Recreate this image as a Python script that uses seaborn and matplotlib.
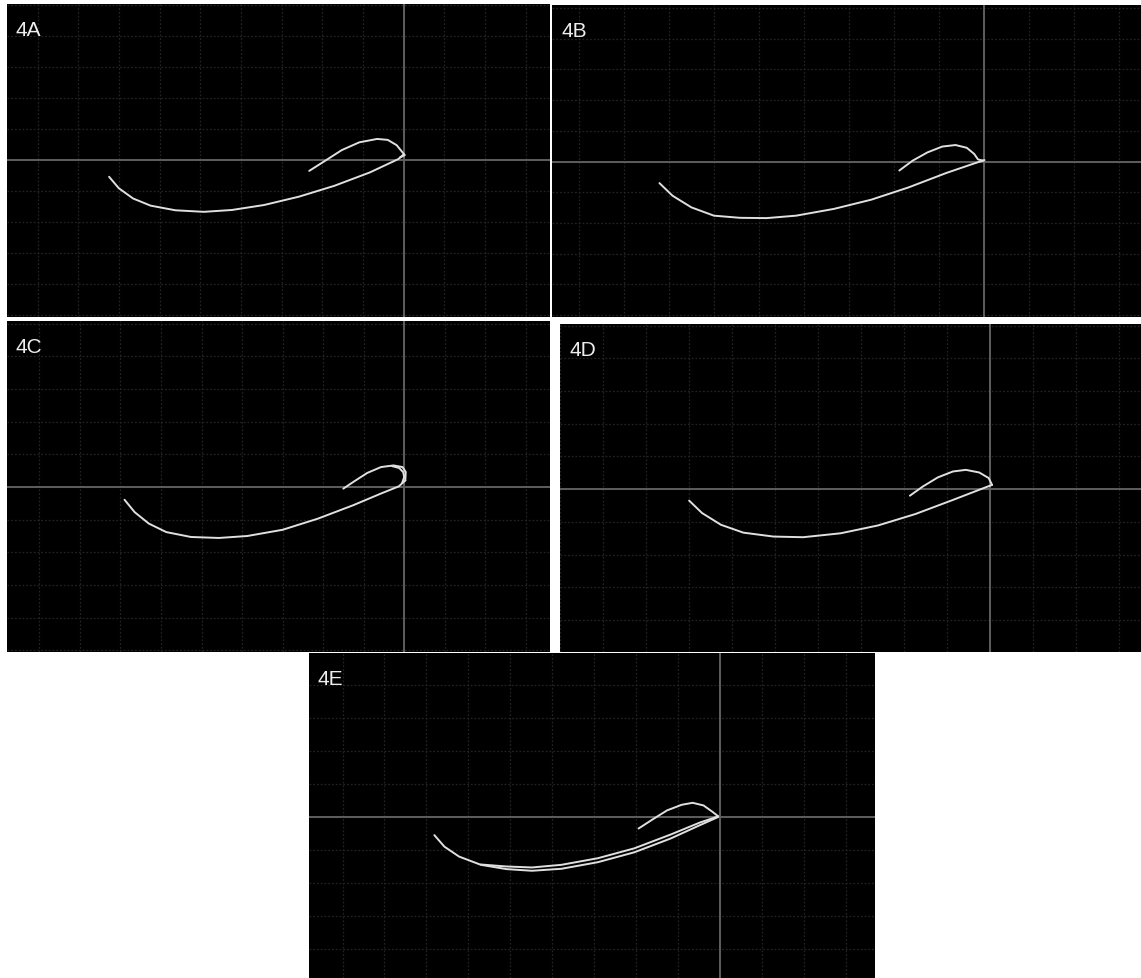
import seaborn as sns
import matplotlib
matplotlib.use('Agg')
import matplotlib.pyplot as plt
import numpy as np
import pandas as pd

sns.set_style('dark')
plt.rcParams['font.family'] = ['Liberation Sans', 'DejaVu Sans']

# loop readings, in grid cells (x left/right of the vertical axis, y above/below)
a_low_x = [-7.24, -7.0, -6.65, -6.22, -5.61, -4.91, -4.22, -3.43, -2.57, -1.70, -0.83, -0.13, 0.0]
a_low_y = [-0.54, -0.91, -1.24, -1.47, -1.62, -1.67, -1.61, -1.45, -1.18, -0.83, -0.40, 0.03, 0.18]
a_up_x = [-2.32, -1.96, -1.52, -1.09, -0.65, -0.39, -0.17, -0.04, 0.03, -0.09]
a_up_y = [-0.35, -0.05, 0.32, 0.57, 0.68, 0.65, 0.48, 0.27, 0.16, 0.08]

b_low_x = [-7.21, -6.92, -6.5, -6.0, -5.42, -4.83, -4.17, -3.33, -2.5, -1.67, -0.83, -0.25, 0.02]
b_low_y = [-0.70, -1.11, -1.49, -1.76, -1.83, -1.84, -1.76, -1.54, -1.24, -0.84, -0.37, -0.08, 0.05]
b_up_x = [-1.875, -1.58, -1.25, -0.92, -0.625, -0.375, -0.21, -0.125, 0.0]
b_up_y = [-0.29, 0.03, 0.30, 0.49, 0.54, 0.45, 0.25, 0.07, 0.03]

c_low_x = [-6.9, -6.65, -6.3, -5.87, -5.26, -4.57, -3.87, -3.0, -2.13, -1.26, -0.57, -0.13, 0.03]
c_low_y = [-0.39, -0.77, -1.12, -1.38, -1.53, -1.56, -1.5, -1.31, -0.97, -0.56, -0.2, 0.02, 0.2]
c_up_x = [-1.5, -1.26, -0.91, -0.57, -0.26, -0.04, 0.04, 0.03]
c_up_y = [-0.05, 0.15, 0.43, 0.61, 0.66, 0.61, 0.46, 0.2]
c_in_x = [-0.3, -0.12, -0.02, 0.0, -0.05]
c_in_y = [0.64, 0.58, 0.45, 0.3, 0.12]

d_low_x = [-7.0, -6.7, -6.26, -5.74, -5.04, -4.35, -3.48, -2.61, -1.74, -0.87, -0.26, 0.04]
d_low_y = [-0.35, -0.73, -1.09, -1.33, -1.45, -1.47, -1.35, -1.11, -0.76, -0.33, -0.02, 0.13]
d_up_x = [-1.87, -1.57, -1.22, -0.87, -0.57, -0.26, -0.04, 0.04]
d_up_y = [-0.2, 0.08, 0.36, 0.54, 0.59, 0.51, 0.34, 0.13]

e_low_x = [-6.81, -6.57, -6.22, -5.7, -5.09, -4.48, -3.78, -2.91, -2.04, -1.17, -0.48, -0.04]
e_low_y = [-0.55, -0.9, -1.2, -1.45, -1.58, -1.63, -1.57, -1.37, -1.07, -0.65, -0.25, 0.0]
e_low2_x = [-5.7, -5.09, -4.48, -3.78, -2.91, -2.04, -1.17, -0.48, -0.04]
e_low2_y = [-1.44, -1.5, -1.53, -1.45, -1.25, -0.95, -0.53, -0.17, 0.02]
e_up_x = [-1.94, -1.6, -1.26, -0.91, -0.65, -0.39, -0.17, -0.04]
e_up_y = [-0.35, -0.07, 0.2, 0.37, 0.43, 0.35, 0.15, 0.02]

labels = ['4A', '4B', '4C', '4D', '4E']
strokes = {
    '4A': [(a_low_x, a_low_y), (a_up_x, a_up_y)],
    '4B': [(b_low_x, b_low_y), (b_up_x, b_up_y)],
    '4C': [(c_low_x, c_low_y), (c_up_x, c_up_y), (c_in_x, c_in_y)],
    '4D': [(d_low_x, d_low_y), (d_up_x, d_up_y)],
    '4E': [(e_low_x, e_low_y), (e_low2_x, e_low2_y), (e_up_x, e_up_y)],
}
# screen extent of each panel in grid cells
xlims = {'4A': (-9.75, 3.6), '4B': (-9.6, 3.5), '4C': (-9.8, 3.6), '4D': (-10.0, 3.5), '4E': (-9.8, 3.7)}
ylims = {'4A': (-5.06, 5.03), '4B': (-5.06, 5.1), '4C': (-5.05, 5.08), '4D': (-4.98, 5.05), '4E': (-4.88, 4.97)}

# panel boxes in pixels: left, top, right, bottom
W, H = 1141, 979
boxes = {
    '4A': (7, 5, 550, 318),
    '4B': (552, 6, 1141, 318),
    '4C': (7, 322, 550, 653),
    '4D': (560, 325, 1141, 653),
    '4E': (309, 654, 875, 979),
}

fig = plt.figure(figsize=(W / 100, H / 100), dpi=100)
fig.patch.set_facecolor('white')

for lab in labels:
    l, t, r, b = boxes[lab]
    ax = fig.add_axes([l / W, 1 - b / H, (r - l) / W, (b - t) / H])
    ax.set_facecolor('black')

    rows = []
    for i, (xs, ys) in enumerate(strokes[lab]):
        for j, (x, y) in enumerate(zip(xs, ys)):
            rows.append({'x': x, 'y': y, 'stroke': i, 'order': j})
    df = pd.DataFrame(rows)

    x0, x1 = xlims[lab]
    y0, y1 = ylims[lab]
    ax.set_xticks(np.arange(np.ceil(x0), x1))
    ax.set_yticks(np.arange(np.ceil(y0), y1))
    ax.grid(True, color='#222222', linestyle=(0, (1.5, 1.5)), linewidth=0.9)
    ax.axhline(0, color='#5e5e5e', lw=1.4, zorder=1)
    ax.axvline(0, color='#5e5e5e', lw=1.4, zorder=1)

    sns.lineplot(data=df, x='x', y='y', units='stroke', estimator=None, sort=False,
                 color='#e0e0e0', lw=1.4, ax=ax, zorder=3)
    for ln in ax.lines[2:]:
        ln.set_solid_joinstyle('round')
        ln.set_solid_capstyle('round')

    ax.set_xlim(x0, x1)
    ax.set_ylim(y0, y1)
    ax.set_xlabel('')
    ax.set_ylabel('')
    ax.tick_params(length=0, labelbottom=False, labelleft=False)
    for s in ax.spines.values():
        s.set_visible(False)
    ax.text(9 / (r - l), 1 - 16 / (b - t), lab, transform=ax.transAxes,
            color='#eeeeee', fontsize=15, ha='left', va='top')

fig.savefig('out.png', dpi=100, facecolor=fig.get_facecolor())
